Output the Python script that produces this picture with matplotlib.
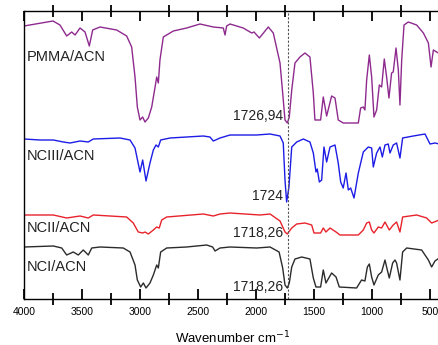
"""FTIR spectra of PMMA/ACN and NC/ACN films, stacked with offsets."""

import matplotlib

matplotlib.use("Agg")
import matplotlib.pyplot as plt

plt.rcParams["font.family"] = ["Liberation Sans", "DejaVu Sans"]

# transmittance in arbitrary (already offset) units
pmma_wn = [4000, 3750, 3690, 3632, 3589, 3560, 3517, 3474, 3437, 3408, 3345, 3201,
           3115, 3072, 3043, 3023, 3000, 2977, 2957, 2928, 2899, 2870, 2856, 2842,
           2828, 2799, 2713, 2598, 2483, 2368, 2282, 2267, 2253, 2224, 2110, 2037,
           2017, 1971, 1894, 1851, 1793, 1770, 1750, 1730, 1713, 1692, 1664, 1621,
           1578, 1535, 1506, 1492, 1443, 1420, 1391, 1348, 1319, 1291, 1248, 1118,
           1098, 1075, 1061, 1046, 1023, 1003, 983, 960, 937, 917, 894, 874, 854,
           831, 817, 793, 773, 759, 744, 724, 687, 615, 557, 514, 491, 471, 428]
pmma_t = [273, 278, 274, 263, 267, 264, 271, 267, 253, 269, 272, 269,
          263, 252, 222, 192, 179, 182, 177, 181, 192, 212, 222, 216,
          239, 262, 268, 271, 275, 272, 271, 264, 273, 275, 271, 266,
          267, 261, 272, 266, 236, 206, 179, 176, 182, 209, 236, 242,
          246, 242, 206, 179, 179, 202, 183, 203, 201, 179, 176, 176,
          191, 192, 189, 219, 244, 222, 182, 189, 214, 212, 240, 222, 201,
          226, 227, 251, 229, 194, 239, 274, 277, 274, 266, 256, 232, 249, 246]

nc3_wn = [4000, 3862, 3747, 3661, 3603, 3517, 3446, 3403, 3172, 3086, 3043, 3000,
          2977, 2948, 2914, 2885, 2862, 2842, 2822, 2741, 2454, 2397, 2368, 2310,
          2224, 1994, 1879, 1793, 1765, 1750, 1736, 1716, 1692, 1649, 1592, 1535,
          1506, 1483, 1472, 1454, 1434, 1414, 1391, 1362, 1319, 1291, 1270, 1248,
          1224, 1204, 1184, 1155, 1118, 1075, 1032, 1003, 989, 960, 931, 911, 888,
          860, 845, 817, 788, 759, 736, 644, 543, 500, 457, 420]
nc3_t = [160, 159, 159, 157, 156, 158, 157, 160, 161, 159, 151, 127,
         139, 118, 136, 149, 154, 152, 159, 161, 163, 162, 158, 161,
         164, 164, 165, 163, 156, 119, 97, 112, 152, 157, 160, 157,
         146, 127, 130, 117, 119, 152, 137, 152, 154, 136, 117, 111,
         126, 109, 111, 101, 126, 147, 152, 151, 132, 146, 152, 142, 154,
         155, 146, 154, 156, 141, 161, 163, 165, 155, 156, 155]

nc2_wn = [4000, 3747, 3632, 3517, 3446, 3403, 3115, 3058, 3015, 2977, 2957, 2928,
          2885, 2856, 2834, 2813, 2770, 2454, 2368, 2310, 2224, 1966, 1879, 1793,
          1750, 1730, 1692, 1649, 1578, 1520, 1500, 1443, 1420, 1397, 1362, 1310,
          1276, 1118, 1075, 1046, 1023, 1003, 983, 946, 917, 888, 851, 817, 788,
          759, 736, 615, 529, 486, 420]
nc2_t = [84, 84, 81, 83, 81, 84, 82, 76, 67, 66, 67, 65,
         69, 72, 71, 79, 82, 85, 83, 85, 86, 84, 85, 78,
         67, 65, 71, 75, 76, 74, 66, 66, 71, 67, 71, 67,
         64, 64, 69, 76, 77, 69, 66, 72, 71, 77, 69, 74, 77,
         67, 82, 84, 81, 76, 79]

nc1_wn = [4000, 3747, 3675, 3632, 3575, 3532, 3489, 3446, 3416, 3345, 3144, 3086,
          3043, 3023, 2994, 2971, 2948, 2914, 2885, 2856, 2842, 2822, 2770, 2598,
          2425, 2374, 2353, 2310, 2224, 1994, 1879, 1801, 1770, 1750, 1730, 1713,
          1692, 1664, 1606, 1535, 1506, 1483, 1443, 1420, 1397, 1348, 1310, 1282,
          1133, 1090, 1061, 1040, 1023, 1003, 983, 946, 917, 888, 868, 851, 822,
          802, 788, 759, 736, 701, 572, 514, 486, 457, 420]
nc1_t = [52, 53, 51, 44, 47, 44, 49, 44, 51, 52, 51, 47,
         34, 19, 12, 16, 11, 16, 24, 34, 31, 47, 51, 52,
         54, 52, 48, 51, 52, 51, 52, 47, 31, 14, 11, 16,
         32, 40, 42, 40, 21, 12, 12, 29, 16, 26, 22, 12,
         11, 19, 18, 32, 35, 22, 14, 24, 27, 39, 29, 21, 36,
         39, 36, 19, 47, 51, 49, 39, 32, 38, 41]

names = ["PMMA/ACN", "NCIII/ACN", "NCII/ACN", "NCI/ACN"]
label_y = [242, 143, 71, 32]
peaks = ["1726,94", "1724", "1718,26", "1718,26"]
peak_y = [183, 103, 66, 12]
colors = ["#8e2a8e", "#1c1ce6", "#e8232b", "#2b2b2b"]
carbonyl = 1724


def main() -> None:
    fig = plt.figure(figsize=(4.39, 3.45), dpi=100)
    ax = fig.add_axes([24 / 439, 46 / 345, 417.6 / 439, 288 / 345])

    series = [(pmma_wn, pmma_t), (nc3_wn, nc3_t), (nc2_wn, nc2_t), (nc1_wn, nc1_t)]
    for (wn, t), c in zip(series, colors):
        ax.plot(wn, t, color=c, lw=1.0)

    ax.axvline(carbonyl, color="#555555", lw=0.8, ls=(0, (2, 1.5)))

    for name, y in zip(names, label_y):
        ax.text(3980, y, name, fontsize=10.5, va="center", ha="left", color="#222222")
    for txt, y in zip(peaks, peak_y):
        ax.text(1770, y, txt, fontsize=10, va="center", ha="right", color="#222222")

    ax.set_xlim(4000, 400)
    ax.set_ylim(0, 288)
    ax.set_yticks([])
    ax.set_xticks(range(4000, 499, -500))
    ax.set_xticks(range(3750, 400, -500), minor=True)
    # ticks on both sides, inward; minor ones straddle the spine
    ax.tick_params(axis="x", which="major", direction="in", length=7, width=1.3,
                   labelsize=7.5, pad=6, top=True)
    ax.tick_params(axis="x", which="minor", direction="inout", length=8, width=1.3,
                   top=True)
    ax.spines["right"].set_visible(False)
    for s in ("left", "bottom", "top"):
        ax.spines[s].set_linewidth(1.0)
    ax.set_xlabel("Wavenumber cm$^{-1}$", fontsize=9.5, labelpad=9)

    fig.savefig("out.png", dpi=100)


if __name__ == "__main__":
    main()
